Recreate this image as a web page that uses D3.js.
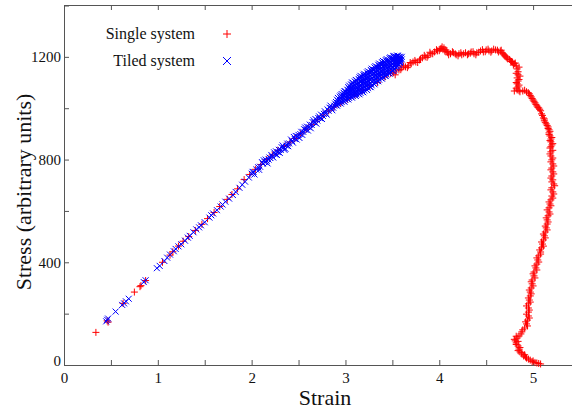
<!DOCTYPE html>
<html>
<head>
<meta charset="utf-8">
<script src="https://cdn.jsdelivr.net/npm/d3@7"></script>
<style>
  html, body { margin: 0; padding: 0; background: #fff; }
  svg { display: block; }
</style>
</head>
<body>
<div id="chart"></div>
<script>
// --- Data: [strain, stress] ---

// Single system (red +): linear loading part
const singleLinear = [
  [0.34,127],[0.46,172],[0.47,167],[0.63,240],[0.75,284],[0.81,305],[0.82,309],[0.87,329],
  [1.05,400],[1.13,428],[1.16,441],[1.22,463],[1.27,482],[1.33,500],[1.40,524],[1.47,548],
  [1.53,570],[1.60,594],[1.66,617],[1.74,645],[1.79,664],[1.85,686],[1.92,722],[1.98,742],
  [2.04,762],[2.10,781],[2.16,800],[2.22,818],[2.28,836],[2.35,852],[2.41,868],[2.46,882],
  [2.52,900],[2.58,918],[2.64,936],[2.70,955],[2.76,973],[2.82,990],[2.88,1005],[2.95,1020],
  [3.02,1035],[3.10,1052],[3.18,1070],[3.26,1086],[3.34,1100],[3.42,1122],[3.48,1136]
];

// Single system: the arch over the peak
const singleArch = [
  [3.51,1138],[3.54,1145],[3.57,1149],[3.60,1157],[3.64,1161],[3.67,1165],[3.70,1173],[3.72,1180],
  [3.75,1180],[3.79,1188],[3.82,1196],[3.85,1200],[3.88,1204],[3.91,1212],[3.95,1219],[3.98,1223],
  [4.01,1231],[4.03,1239],[4.05,1235],[4.07,1227],[4.09,1216],[4.12,1212],[4.15,1216],[4.18,1208],
  [4.21,1212],[4.24,1208],[4.28,1216],[4.31,1212],[4.34,1219],[4.37,1212],[4.40,1216],[4.44,1223],
  [4.47,1219],[4.50,1227],[4.53,1223],[4.56,1223],[4.60,1227],[4.63,1219],[4.65,1223],[4.67,1216],
  [4.69,1208],[4.71,1200],[4.73,1192],[4.76,1184],[4.78,1180],[4.80,1173],[4.82,1165],[4.83,1153],
  [4.84,1142],[4.84,1130],[4.83,1118],[4.84,1106],[4.83,1095],[4.84,1083],[4.83,1071],[4.86,1064],
  [4.89,1067],[4.93,1064],[4.96,1056],[4.98,1044],[5.00,1032],[5.02,1021],[5.04,1009],[5.06,1001],
  [5.08,990],[5.09,978],[5.11,962],[5.12,951],[5.14,939],[5.16,927],[5.17,916],[5.17,904],
  [5.18,892],[5.19,880],[5.19,869],[5.20,857],[5.18,845]
];

// Single system: scatter beside the arch (the trail is several markers wide)
const singleArchScatter = [
  [3.53,1130],[3.59,1150],[3.62,1165],[3.66,1158],[3.69,1178],[3.74,1186],[3.77,1178],[3.80,1192],
  [3.84,1206],[3.87,1198],[3.90,1218],[3.93,1212],[3.97,1228],[4.00,1224],[4.02,1233],[4.04,1228],
  [4.06,1222],[4.08,1222],[4.10,1208],[4.14,1220],[4.17,1212],[4.20,1204],[4.23,1216],[4.26,1212],
  [4.30,1208],[4.33,1214],[4.36,1220],[4.39,1208],[4.42,1218],[4.46,1228],[4.49,1220],[4.52,1230],
  [4.55,1218],[4.58,1230],[4.62,1226],[4.66,1226],[4.68,1212],[4.70,1204],[4.72,1196],[4.75,1190],
  [4.77,1182],[4.79,1168],[4.81,1176],[4.85,1160],[4.82,1136],[4.86,1125],[4.85,1112],[4.82,1100],
  [4.85,1090],[4.82,1078],[4.85,1068],[4.80,1067],[4.91,1070],[4.95,1060],[4.97,1050],[4.99,1038],
  [5.01,1027],[5.03,1015],[5.05,1004],[5.07,996],[5.10,972],[5.12,958],[5.13,945],[5.15,933],
  [5.16,921],[5.18,910],[5.17,898],[5.20,886],[5.18,874],[5.21,862],[5.19,850]
];

// Single system: the falling branch down to zero stress
const singleDescent = [
  [5.19,830],[5.19,814],[5.20,799],[5.21,783],[5.20,767],[5.21,752],[5.20,736],[5.21,721],
  [5.22,705],[5.20,690],[5.21,674],[5.20,658],[5.19,643],[5.18,627],[5.17,612],[5.17,596],
  [5.16,581],[5.15,565],[5.15,549],[5.14,534],[5.13,518],[5.12,503],[5.11,487],[5.10,471],
  [5.09,456],[5.08,440],[5.06,425],[5.05,409],[5.04,393],[5.03,378],[5.01,362],[5.01,347],
  [4.99,331],[4.99,316],[4.98,300],[4.97,284],[4.97,269],[4.96,253],[4.95,238],[4.95,222],
  [4.95,206],[4.95,191],[4.94,175],[4.93,160],[4.91,144],[4.88,129],[4.85,113],[4.83,105],
  [4.81,94],[4.82,86],[4.84,74],[4.85,62],[4.86,51],[4.88,43],[4.90,35],[4.93,27],
  [4.97,19],[5.00,16],[5.04,8],[5.08,4]
];

// Single system: scatter beside the falling branch
const singleDescentScatter = [
  [5.21,836],[5.18,822],[5.21,806],[5.19,791],[5.22,775],[5.19,760],[5.22,744],[5.19,728],
  [5.20,713],[5.23,698],[5.19,682],[5.22,666],[5.21,650],[5.17,635],[5.19,620],[5.15,604],
  [5.18,588],[5.14,573],[5.16,557],[5.13,541],[5.15,526],[5.11,510],[5.13,495],[5.09,479],
  [5.11,463],[5.07,448],[5.08,432],[5.04,417],[5.06,401],[5.02,386],[5.04,370],[5.00,355],
  [5.02,339],[4.98,324],[5.00,308],[4.96,292],[4.98,277],[4.95,261],[4.97,245],[4.93,230],
  [4.96,214],[4.93,198],[4.96,183],[4.92,168],[4.94,152],[4.89,137],[4.87,121],[4.82,112],
  [4.80,100],[4.84,92],[4.82,80],[4.86,68],[4.84,56],[4.88,48],[4.91,40],[4.92,31],
  [4.95,23],[4.99,13],[5.02,10],[5.06,6]
];

// Tiled system (blue x): linear part
const tiledLinear = [
  [0.45,170],[0.46,176],[0.47,181],[0.55,208],[0.62,234],[0.64,240],[0.66,248],[0.69,258],
  [0.85,323],[0.87,330],[0.99,377],[1.02,386],[1.07,405],[1.10,418],[1.13,430],[1.17,443],
  [1.19,452],[1.22,462],[1.25,470],[1.29,484],[1.32,496],[1.34,503],[1.38,517],[1.41,528],
  [1.44,536],[1.46,544],[1.50,556],[1.55,574],[1.57,583],[1.59,590],[1.63,603],[1.67,617],
  [1.69,625],[1.72,636],[1.76,648],[1.80,662],[1.83,674],[1.87,690],[1.90,702],[1.93,714],
  [1.97,730],[2.00,745],[2.02,752],[2.05,761],[2.09,772],[2.12,784],[2.14,790],[2.16,795],
  [2.18,800],[2.20,806],[2.22,812],[2.25,820],[2.28,829],[2.31,838],[2.34,846],[2.37,854],
  [2.40,863],[2.43,872],[2.46,880],[2.49,890],[2.52,899],[2.55,908],[2.58,916],[2.61,926],
  [2.64,935],[2.67,945],[2.70,952],[2.73,961],[2.76,970],[2.79,980],[2.82,990],[2.85,1000],
  [2.88,1010]
];

// Tiled system: scatter either side of the band
const tiledBand = [
  [2.13,797],[2.17,785],[2.19,808],[2.24,828],[2.27,818],[2.33,855],[2.36,842],[2.45,888],
  [2.48,878],[2.57,925],[2.60,913],[2.66,953],[2.69,940],[2.72,968],[2.75,958],[2.78,988],
  [2.80,975],[2.83,1002],[2.86,992],
  [2.01,752],[2.03,742],[2.07,770],[2.08,760],[2.11,790],[2.15,800],[2.21,818],[2.23,808],
  [2.26,832],[2.29,838],[2.30,826],[2.32,848],[2.35,838],[2.38,862],[2.39,852],[2.42,878],
  [2.44,866],[2.47,892],[2.50,896],[2.51,884],[2.53,908],[2.54,896],[2.56,918],[2.59,928],
  [2.62,936],[2.63,922],[2.65,946],[2.68,958],[2.71,962],[2.74,975],[2.77,978],[2.81,995],
  [2.84,1010],[2.87,1002],[2.89,1018]
];

// Tiled system: the dense cloud near the top
const tiledCluster = [
  [2.90,1012],[2.90,1024],
  [2.94,1020],[2.94,1033],[2.94,1045],
  [2.98,1028],[2.98,1040],[2.98,1050],[2.98,1060],
  [3.02,1036],[3.02,1048],[3.02,1060],[3.02,1072],
  [3.06,1044],[3.06,1056],[3.06,1068],[3.06,1080],[3.06,1092],
  [3.10,1050],[3.10,1063],[3.10,1077],[3.10,1090],[3.10,1104],
  [3.14,1056],[3.14,1070],[3.14,1085],[3.14,1100],[3.14,1114],
  [3.18,1064],[3.18,1078],[3.18,1093],[3.18,1108],[3.18,1122],
  [3.22,1074],[3.22,1088],[3.22,1102],[3.22,1116],[3.22,1130],
  [3.26,1083],[3.26,1097],[3.26,1111],[3.26,1126],[3.26,1140],
  [3.30,1096],[3.30,1110],[3.30,1123],[3.30,1137],[3.30,1150],
  [3.34,1106],[3.34,1120],[3.34,1133],[3.34,1147],[3.34,1160],
  [3.38,1117],[3.38,1130],[3.38,1144],[3.38,1157],[3.38,1170],
  [3.42,1127],[3.42,1140],[3.42,1154],[3.42,1167],[3.42,1180],
  [3.46,1136],[3.46,1149],[3.46,1162],[3.46,1175],[3.46,1188],
  [3.50,1145],[3.50,1158],[3.50,1171],[3.50,1184],[3.50,1195],
  [3.54,1157],[3.54,1170],[3.54,1182],[3.54,1193],[3.54,1200],
  [3.57,1170],[3.57,1182],[3.57,1193],[3.57,1200],
  [3.59,1182],[3.59,1195]
];

// Tiled system: more of the cloud, between the columns above
const tiledClusterFill = [
  [2.92,1016],[2.92,1028],[2.92,1040],
  [2.96,1024],[2.96,1036],[2.96,1046],[2.96,1055],
  [3.00,1032],[3.00,1044],[3.00,1055],[3.00,1066],
  [3.04,1040],[3.04,1052],[3.04,1064],[3.04,1076],[3.04,1088],
  [3.08,1047],[3.08,1060],[3.08,1073],[3.08,1086],[3.08,1099],
  [3.12,1053],[3.12,1066],[3.12,1080],[3.12,1094],[3.12,1108],
  [3.16,1060],[3.16,1074],[3.16,1089],[3.16,1104],[3.16,1118],[3.16,1126],
  [3.20,1069],[3.20,1083],[3.20,1097],[3.20,1111],[3.20,1125],[3.20,1134],
  [3.24,1078],[3.24,1092],[3.24,1106],[3.24,1120],[3.24,1133],[3.24,1144],
  [3.28,1089],[3.28,1103],[3.28,1117],[3.28,1130],[3.28,1144],[3.28,1154],
  [3.32,1101],[3.32,1115],[3.32,1128],[3.32,1142],[3.32,1155],[3.32,1164],
  [3.36,1111],[3.36,1125],[3.36,1138],[3.36,1151],[3.36,1165],[3.36,1174],
  [3.40,1122],[3.40,1135],[3.40,1148],[3.40,1161],[3.40,1174],[3.40,1184],
  [3.44,1131],[3.44,1144],[3.44,1157],[3.44,1170],[3.44,1182],[3.44,1191],
  [3.48,1140],[3.48,1153],[3.48,1166],[3.48,1179],[3.48,1190],[3.48,1198],
  [3.52,1151],[3.52,1164],[3.52,1176],[3.52,1188],[3.52,1198],[3.52,1204],
  [3.55,1163],[3.55,1176],[3.55,1188],[3.55,1198],[3.55,1205],
  [3.58,1176],[3.58,1188],[3.58,1200],
  [3.60,1190],[3.60,1200]
];

// Tiled system: the rest of the cloud, offset from both sets above
const tiledClusterCore = [
  [2.91,1010],[2.91,1021],[2.91,1033],
  [2.95,1018],[2.95,1029],[2.95,1040],[2.95,1050],
  [2.99,1025],[2.99,1037],[2.99,1049],[2.99,1056],[2.99,1066],
  [3.03,1034],[3.03,1045],[3.03,1057],[3.03,1069],[3.03,1082],
  [3.07,1041],[3.07,1053],[3.07,1066],[3.07,1079],[3.07,1092],[3.07,1100],
  [3.11,1048],[3.11,1060],[3.11,1073],[3.11,1087],[3.11,1100],[3.11,1110],
  [3.15,1054],[3.15,1067],[3.15,1081],[3.15,1096],[3.15,1110],[3.15,1120],
  [3.19,1062],[3.19,1075],[3.19,1089],[3.19,1103],[3.19,1117],[3.19,1130],
  [3.23,1071],[3.23,1085],[3.23,1099],[3.23,1113],[3.23,1127],[3.23,1139],
  [3.27,1082],[3.27,1096],[3.27,1110],[3.27,1123],[3.27,1137],[3.27,1149],
  [3.31,1093],[3.31,1107],[3.31,1121],[3.31,1135],[3.31,1149],[3.31,1159],
  [3.35,1105],[3.35,1118],[3.35,1131],[3.35,1145],[3.35,1158],[3.35,1169],
  [3.39,1115],[3.39,1128],[3.39,1141],[3.39,1154],[3.39,1168],[3.39,1179],
  [3.43,1125],[3.43,1138],[3.43,1151],[3.43,1164],[3.43,1177],[3.43,1187],
  [3.47,1135],[3.47,1147],[3.47,1160],[3.47,1173],[3.47,1185],[3.47,1195],
  [3.51,1146],[3.51,1159],[3.51,1172],[3.51,1184],[3.51,1194],[3.51,1202],
  [3.54,1162],[3.54,1176],[3.54,1188],[3.54,1198],
  [3.56,1170],[3.56,1182],[3.56,1194],[3.56,1204],
  [3.58,1180],[3.58,1192]
];

// Ticks
const xTickValues = [0, 0.5, 1, 1.5, 2, 2.5, 3, 3.5, 4, 4.5, 5, 5.5];
const xLabelValues = [0, 1, 2, 3, 4, 5];
const yTickValues = [0, 200, 400, 600, 800, 1000, 1200, 1400];
const yLabelValues = [0, 400, 800, 1200];

const seriesNames = ["Single system", "Tiled system"];
const seriesColors = ["#ff0000", "#0000ff"];

// --- Layout ---
const W = 572, H = 410;
const svg = d3.select("#chart").append("svg")
  .attr("width", W)
  .attr("height", H);

svg.append("rect").attr("width", W).attr("height", H).attr("fill", "#fff");

const x = d3.scaleLinear().domain([0, 5.5]).range([64, 580]);
const y = d3.scaleLinear().domain([0, 1400]).range([365, 5.5]);

const serif = "'Liberation Serif', 'DejaVu Serif', serif";
const fmt = vals => d => vals.includes(d) ? d3.format("d")(d) : "";

function styleAxis(g) {
  g.attr("font-family", serif).attr("font-size", 15).attr("color", "#555");
  g.selectAll("text").attr("fill", "#111");
}

// bottom
svg.append("g")
  .attr("transform", "translate(0,365)")
  .call(d3.axisBottom(x).tickValues(xTickValues).tickFormat(fmt(xLabelValues))
    .tickSizeInner(-5).tickSizeOuter(0).tickPadding(7))
  .call(styleAxis);

// top
svg.append("g")
  .attr("transform", "translate(0,5)")
  .call(d3.axisTop(x).tickValues(xTickValues).tickFormat(() => "")
    .tickSizeInner(-5).tickSizeOuter(0))
  .call(styleAxis);

// left
svg.append("g")
  .attr("transform", "translate(64,0)")
  .call(d3.axisLeft(y).tickValues(yTickValues).tickFormat(fmt(yLabelValues))
    .tickSizeInner(-5).tickSizeOuter(0).tickPadding(3))
  .call(styleAxis)
  .call(g => g.selectAll(".tick").filter(d => d === 0).select("text").attr("dy", "0.05em"));

// axis titles
svg.append("text")
  .attr("x", 325).attr("y", 405)
  .attr("text-anchor", "middle")
  .attr("font-family", serif).attr("font-size", 22).attr("fill", "#111")
  .text("Strain");

svg.append("text")
  .attr("transform", "translate(31,192) rotate(-90)")
  .attr("text-anchor", "middle")
  .attr("font-family", serif).attr("font-size", 22).attr("fill", "#111")
  .text("Stress (arbitrary units)");

// --- markers ---
const plusPath = r => `M${-r},0H${r}M0,${-r}V${r}`;
const crossPath = r => `M${-r},${-r}L${r},${r}M${-r},${r}L${r},${-r}`;

const plot = svg.append("g");

const singleAll = singleLinear.concat(singleArch, singleArchScatter, singleDescent, singleDescentScatter);
plot.append("g").selectAll("path")
  .data(singleAll)
  .enter().append("path")
  .attr("transform", d => `translate(${x(d[0])},${y(d[1])})`)
  .attr("d", plusPath(3.5))
  .attr("stroke", seriesColors[0])
  .attr("stroke-width", 1)
  .attr("fill", "none");

const tiledAll = tiledLinear.concat(tiledBand, tiledCluster, tiledClusterFill, tiledClusterCore);
plot.append("g").selectAll("path")
  .data(tiledAll)
  .enter().append("path")
  .attr("transform", d => `translate(${x(d[0])},${y(d[1])})`)
  .attr("d", crossPath(3))
  .attr("stroke", seriesColors[1])
  .attr("stroke-width", 1)
  .attr("fill", "none");

// --- legend ---
const legend = svg.append("g");
seriesNames.forEach((name, i) => {
  const ly = 34 + i * 27;
  legend.append("text")
    .attr("x", 195).attr("y", ly + 4.5)
    .attr("text-anchor", "end")
    .attr("font-family", serif).attr("font-size", 16).attr("fill", "#111")
    .text(name);
  legend.append("path")
    .attr("transform", `translate(227,${ly})`)
    .attr("d", i === 0 ? plusPath(4) : crossPath(4))
    .attr("stroke", seriesColors[i])
    .attr("stroke-width", 1)
    .attr("fill", "none");
});
</script>
</body>
</html>
